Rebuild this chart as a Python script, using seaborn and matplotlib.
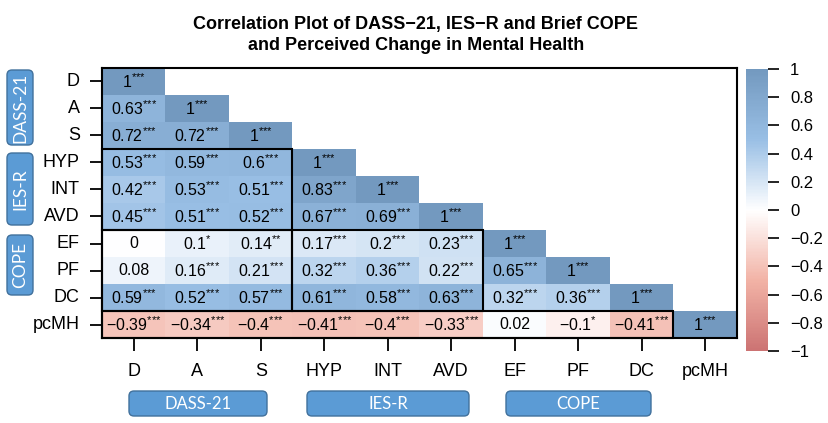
import numpy as np
import pandas as pd
import seaborn as sns
import matplotlib.pyplot as plt
from matplotlib.colors import LinearSegmentedColormap
from matplotlib.patches import Rectangle, FancyBboxPatch
from matplotlib.transforms import IdentityTransform

# Variables (rows / columns of the correlation matrix)
variables = ['D', 'A', 'S', 'HYP', 'INT', 'AVD', 'EF', 'PF', 'DC', 'pcMH']

# Lower triangle, row by row
r_D    = [1]
r_A    = [0.63, 1]
r_S    = [0.72, 0.72, 1]
r_HYP  = [0.53, 0.59, 0.6, 1]
r_INT  = [0.42, 0.53, 0.51, 0.83, 1]
r_AVD  = [0.45, 0.51, 0.52, 0.67, 0.69, 1]
r_EF   = [0, 0.1, 0.14, 0.17, 0.2, 0.23, 1]
r_PF   = [0.08, 0.16, 0.21, 0.32, 0.36, 0.22, 0.65, 1]
r_DC   = [0.59, 0.52, 0.57, 0.61, 0.58, 0.63, 0.32, 0.36, 1]
r_pcMH = [-0.39, -0.34, -0.4, -0.41, -0.4, -0.33, 0.02, -0.1, -0.41, 1]

# significance stars
s_D    = ['***']
s_A    = ['***'] * 2
s_S    = ['***'] * 3
s_HYP  = ['***'] * 4
s_INT  = ['***'] * 5
s_AVD  = ['***'] * 6
s_EF   = ['', '*', '**', '***', '***', '***', '***']
s_PF   = ['', '***', '***', '***', '***', '***', '***', '***']
s_DC   = ['***'] * 9
s_pcMH = ['***'] * 6 + ['', '*', '***', '***']

# scale groups (name, number of variables)
group_names = ['DASS-21', 'IES-R', 'COPE', 'pcMH']
group_sizes = [3, 3, 3, 1]

cbar_ticks = [1, 0.8, 0.6, 0.4, 0.2, 0, -0.2, -0.4, -0.6, -0.8, -1]

rows = [r_D, r_A, r_S, r_HYP, r_INT, r_AVD, r_EF, r_PF, r_DC, r_pcMH]
stars = [s_D, s_A, s_S, s_HYP, s_INT, s_AVD, s_EF, s_PF, s_DC, s_pcMH]

n = len(variables)
mat = np.full((n, n), np.nan)
annot = np.full((n, n), '', dtype=object)


def fmt(v):
    return f'{v:g}'.replace('-', '\u2212')


for i, (vals, st) in enumerate(zip(rows, stars)):
    for j, (v, s) in enumerate(zip(vals, st)):
        mat[i, j] = v
        annot[i, j] = fmt(v) + (r'$^{\text{' + s + '}}$' if s else '')

df = pd.DataFrame(mat, index=variables, columns=variables)
mask = np.isnan(mat)

plt.rcParams['font.family'] = ['Liberation Sans', 'DejaVu Sans']
plt.rcParams['mathtext.fontset'] = 'custom'
plt.rcParams['mathtext.rm'] = 'Liberation Sans'
plt.rcParams['mathtext.it'] = 'Liberation Sans'

# corrplot-like palette, blended with white (alpha)
cmap = LinearSegmentedColormap.from_list(
    'corr', ['#CC7373', '#F2B3A6', '#FFFFFF', '#99BFE5', '#7399BF'], N=200)

W, H = 829, 423
fig = plt.figure(figsize=(W / 100, H / 100), dpi=100)
ax = fig.add_axes([102 / W, (H - 338) / H, (737 - 102) / W, (338 - 68) / H])
cax = fig.add_axes([746 / W, (H - 351) / H, 22 / W, (351 - 69) / H])

sns.heatmap(df, mask=mask, cmap=cmap, vmin=-1, vmax=1, annot=annot, fmt='',
            annot_kws={'color': 'black', 'fontsize': 11.5},
            cbar_ax=cax, ax=ax)

for sp in ax.spines.values():
    sp.set_visible(True)
    sp.set_linewidth(1.5)

ax.tick_params(axis='both', length=9, width=1.3, labelsize=13, color='black')
ax.tick_params(axis='x', pad=9)
ax.tick_params(axis='y', pad=7)
ax.set_xticklabels(variables, rotation=0)
ax.set_yticklabels(variables, rotation=0)
ax.set_xlabel('')
ax.set_ylabel('')

# block rectangles between scales
bounds = np.cumsum([0] + group_sizes)
for gi in range(1, len(group_sizes)):
    if gi == len(group_sizes) - 1:
        ax.add_patch(Rectangle((0, bounds[gi]), bounds[gi], group_sizes[gi],
                               fill=False, ec='black', lw=1.5, clip_on=False))
    else:
        for gj in range(gi):
            ax.add_patch(Rectangle((bounds[gj], bounds[gi]), group_sizes[gj],
                                   group_sizes[gi], fill=False, ec='black',
                                   lw=1.5, clip_on=False))

# colorbar
cbar = ax.collections[0].colorbar
cbar.outline.set_visible(False)
cbar.set_ticks(cbar_ticks)
cbar.set_ticklabels([fmt(t) for t in cbar_ticks])
cbar.ax.tick_params(length=8, width=1.2, labelsize=12, pad=8)

fig.suptitle('Correlation Plot of DASS\u221221, IES\u2212R and Brief COPE\n'
             'and Perceived Change in Mental Health',
             x=416 / W, y=1 - 35 / H, va='center', fontsize=13,
             fontweight='bold', linespacing=1.35)


# scale name boxes (pixel layout)
def name_box(x0, y0, x1, y1, text, rot, size):
    box = FancyBboxPatch((x0, H - y1), x1 - x0, y1 - y0,
                         boxstyle='round,pad=0,rounding_size=5',
                         fc='#5B9BD5', ec='#41719C', lw=1,
                         transform=IdentityTransform())
    fig.add_artist(box)
    fig.text((x0 + x1) / 2 / W, 1 - (y0 + y1) / 2 / H, text, rotation=rot,
             ha='center', va='center', color='white', fontsize=size,
             family=['Lato', 'DejaVu Sans'])


name_box(7, 70, 33, 145, group_names[0], 90, 12.5)
name_box(7, 153, 33, 225, group_names[1], 90, 12.5)
name_box(7, 235, 33, 295, group_names[2], 90, 12.5)
name_box(129, 391, 267, 416, group_names[0], 0, 12)
name_box(307, 391, 469, 416, group_names[1], 0, 12)
name_box(506, 391, 651, 416, group_names[2], 0, 12)

fig.savefig('out.png', dpi=100)
